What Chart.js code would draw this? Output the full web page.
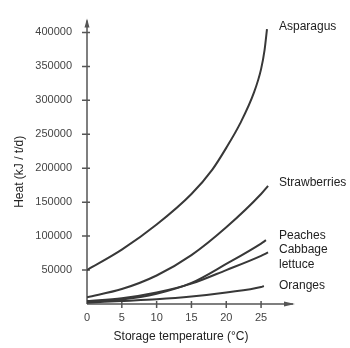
<!DOCTYPE html>
<html lang="en">
<head>
    <meta charset="UTF-8">
    <title>Heat of respiration</title>
    <script src="https://cdn.jsdelivr.net/npm/chart.js"></script>
    <style>
        body { margin: 0; background: #fff; }
        canvas { display: block; }
    </style>
</head>
<body>
    <canvas id="grafico" width="350" height="348"></canvas>

<script>
    // valores
    const seriesNames = ['Asparagus', 'Strawberries', 'Peaches', 'Cabbage lettuce', 'Oranges'];

    const asparagusTemp = [0, 5, 10, 15, 18, 20, 22, 24, 25, 25.5, 25.85];
    const asparagusHeat = [50000, 80000, 117000, 162000, 198000, 230000, 266000, 312000, 346000, 374000, 405000];

    const strawberriesTemp = [0, 5, 10, 15, 20, 25, 26];
    const strawberriesHeat = [10000, 22000, 42000, 72000, 113000, 162000, 174000];

    const peachesTemp = [0, 5, 10, 15, 20, 25, 25.7];
    const peachesHeat = [3500, 6500, 15000, 31000, 59000, 89000, 94000];

    const cabbageTemp = [0, 5, 10, 15, 20, 25, 26];
    const cabbageHeat = [4500, 8500, 17000, 30000, 50000, 71000, 76000];

    const orangesTemp = [0, 5, 10, 15, 20, 25, 25.4];
    const orangesHeat = [2000, 4500, 7000, 11000, 17000, 25000, 26500];

    const xTicks = [0, 5, 10, 15, 20, 25];
    const yTicks = [50000, 100000, 150000, 200000, 250000, 300000, 350000, 400000];

    const xTitle = 'Storage temperature (°C)';
    const yTitle = 'Heat (kJ / t/d)';

    const fonte = '"Liberation Sans", Arial, sans-serif';
    const corEixo = '#555';
    const corLinha = '#383838';

    function pontos(xs, ys) {
        return xs.map((x, i) => ({ x: x, y: ys[i] }));
    }

    const series = [
        pontos(asparagusTemp, asparagusHeat),
        pontos(strawberriesTemp, strawberriesHeat),
        pontos(peachesTemp, peachesHeat),
        pontos(cabbageTemp, cabbageHeat),
        pontos(orangesTemp, orangesHeat)
    ];

    // deslocamento vertical de cada nome em relacao ao fim da curva
    const ajusteNome = [-2, -3, -5, -3, 0];

    const eixos = {
        id: 'eixos',
        beforeDatasetsDraw(chart) {
            const ctx = chart.ctx;
            const a = chart.chartArea;
            const x = chart.scales.x;
            const y = chart.scales.y;
            ctx.save();
            ctx.strokeStyle = corEixo;
            ctx.fillStyle = corEixo;
            ctx.lineWidth = 1.5;

            // eixo y com seta
            ctx.beginPath();
            ctx.moveTo(a.left, a.bottom);
            ctx.lineTo(a.left, a.top - 1);
            ctx.stroke();
            ctx.beginPath();
            ctx.moveTo(a.left, a.top - 3);
            ctx.lineTo(a.left - 2.5, a.top + 6);
            ctx.lineTo(a.left + 2.5, a.top + 6);
            ctx.closePath();
            ctx.fill();

            // eixo x com seta
            const fimX = a.right + 18;
            ctx.beginPath();
            ctx.moveTo(a.left, a.bottom);
            ctx.lineTo(fimX, a.bottom);
            ctx.stroke();
            ctx.beginPath();
            ctx.moveTo(fimX + 2, a.bottom);
            ctx.lineTo(fimX - 9, a.bottom - 2.5);
            ctx.lineTo(fimX - 9, a.bottom + 2.5);
            ctx.closePath();
            ctx.fill();

            // tracinhos
            ctx.beginPath();
            y.ticks.forEach(t => {
                const py = y.getPixelForValue(t.value);
                ctx.moveTo(a.left - 5, py);
                ctx.lineTo(a.left + 3, py);
            });
            x.ticks.forEach(t => {
                if (t.value === 0) return;
                const px = x.getPixelForValue(t.value);
                ctx.moveTo(px, a.bottom - 3);
                ctx.lineTo(px, a.bottom + 4);
            });
            ctx.stroke();

            // titulo do eixo y
            ctx.fillStyle = '#222';
            ctx.font = '12px ' + fonte;
            ctx.textAlign = 'center';
            ctx.textBaseline = 'middle';
            ctx.translate(20, a.top + (a.bottom - a.top) / 2 + 9);
            ctx.rotate(-Math.PI / 2);
            ctx.fillText(yTitle, 0, 0);
            ctx.restore();
        },
        afterDatasetsDraw(chart) {
            const ctx = chart.ctx;
            const y = chart.scales.y;
            ctx.save();
            ctx.fillStyle = '#222';
            ctx.font = '12px ' + fonte;
            ctx.textAlign = 'left';
            ctx.textBaseline = 'middle';
            chart.data.datasets.forEach((ds, i) => {
                const ultimo = ds.data[ds.data.length - 1];
                const py = y.getPixelForValue(ultimo.y) + ajusteNome[i];
                ds.label.split(' ').forEach((linha, j) => {
                    ctx.fillText(linha, 279, py + j * 15.5);
                });
            });
            ctx.restore();
        }
    };

    new Chart(document.getElementById('grafico'), {
        type: 'line',
        data: {
            datasets: series.map((d, i) => ({
                label: seriesNames[i],
                data: d,
                borderColor: corLinha,
                borderWidth: 2,
                pointRadius: 0,
                fill: false,
                cubicInterpolationMode: 'monotone'
            }))
        },
        options: {
            responsive: false,
            animation: false,
            layout: { padding: { top: 14, right: 75, left: 0, bottom: 0 } },
            plugins: {
                legend: { display: false },
                tooltip: { enabled: false }
            },
            scales: {
                x: {
                    type: 'linear',
                    min: 0,
                    max: 27,
                    grid: { display: false, drawTicks: false },
                    border: { display: false },
                    afterBuildTicks: s => { s.ticks = xTicks.map(v => ({ value: v })); },
                    afterFit: s => { s.height = 44; },
                    ticks: {
                        padding: 7,
                        color: '#444',
                        font: { family: fonte, size: 11 },
                        maxRotation: 0
                    },
                    title: {
                        display: true,
                        text: xTitle,
                        color: '#222',
                        font: { family: fonte, size: 12 },
                        padding: { top: 4, bottom: 4 }
                    }
                },
                y: {
                    min: 0,
                    max: 416000,
                    grid: { display: false, drawTicks: false },
                    border: { display: false },
                    afterBuildTicks: s => { s.ticks = yTicks.map(v => ({ value: v })); },
                    afterFit: s => { s.width = 87; },
                    ticks: {
                        padding: 15,
                        color: '#444',
                        font: { family: fonte, size: 11 },
                        callback: v => String(v)
                    }
                }
            }
        },
        plugins: [eixos]
    });
</script>
</body>
</html>
